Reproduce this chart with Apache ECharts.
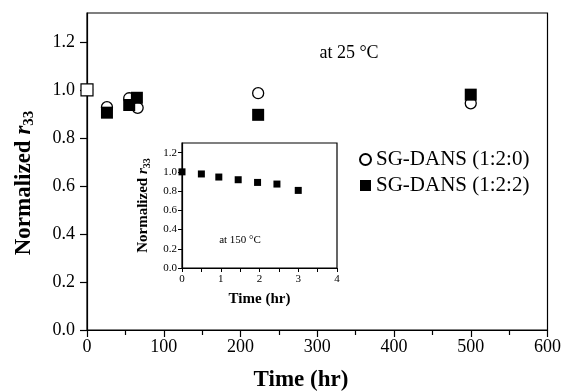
<!DOCTYPE html>
<html>
<head>
<meta charset="utf-8">
<script src="https://cdn.jsdelivr.net/npm/echarts@6/dist/echarts.min.js"></script>
<style>html,body{margin:0;padding:0;background:#fff;}#c{width:564px;height:392px;}</style>
</head>
<body>
<div id="c"></div>
<script>
// Main chart data (at 25 °C)
const mainTicksX = [0, 100, 200, 300, 400, 500, 600];
const seriesA_name = 'SG-DANS (1:2:0)';
const seriesA_time = [0, 26, 55, 66, 223, 500];
const seriesA_r33  = [1.0, 0.928, 0.965, 0.925, 0.986, 0.944];
const seriesB_name = 'SG-DANS (1:2:2)';
const seriesB_time = [0, 26, 55, 65, 223, 500];
const seriesB_r33  = [1.0, 0.905, 0.937, 0.967, 0.896, 0.98];
// Inset data (at 150 °C)
const inset_time = [0, 0.5, 0.95, 1.45, 1.95, 2.45, 3.0];
const inset_r33  = [1.0, 0.978, 0.946, 0.918, 0.89, 0.873, 0.807];

const FONT = '"Liberation Serif", "Times New Roman", serif';
const chart = echarts.init(document.getElementById('c'), null, {renderer: 'canvas'});

const ptsA = seriesA_time.map((t, i) => [t, seriesA_r33[i]]);
const ptsB = seriesB_time.map((t, i) => {
  const p = {value: [t, seriesB_r33[i]]};
  if (t === 0) p.itemStyle = {color: '#fff', borderColor: '#000', borderWidth: 1.2};
  return p;
});
const ptsInset = inset_time.map((t, i) => [t, inset_r33[i]]);

const axisLineStyle = {show: true, lineStyle: {color: '#000', width: 1.2}};

chart.setOption({
  animation: false,
  backgroundColor: '#fff',
  grid: [
    {left: 87, top: 13, right: 15, bottom: 62, show: true, borderColor: '#000', borderWidth: 1.2, backgroundColor: 'transparent'},
    {left: 182, top: 143, width: 155, height: 125, show: true, borderColor: '#000', borderWidth: 1.2, backgroundColor: '#fff', z: 5}
  ],
  legend: {
    orient: 'vertical', left: 354, top: 144, itemWidth: 11, itemHeight: 11, itemGap: 5,
    data: [seriesA_name, seriesB_name],
    textStyle: {fontFamily: FONT, fontSize: 21, color: '#000', padding: [0, 0, 0, 0]}
  },
  xAxis: [
    {gridIndex: 0, type: 'value', min: 0, max: 600, interval: 100,
     axisLine: axisLineStyle,
     axisTick: {show: true, inside: false, length: 7, lineStyle: {color: '#000', width: 1.2}},
     minorTick: {show: true, splitNumber: 2, length: 5, lineStyle: {color: '#000', width: 1.2}},
     splitLine: {show: false},
     axisLabel: {fontFamily: FONT, fontSize: 18, color: '#000', margin: 8}},
    {gridIndex: 1, type: 'value', min: 0, max: 4, interval: 1, z: 6,
     axisLine: axisLineStyle,
     axisTick: {show: true, length: 4, lineStyle: {color: '#000'}},
     minorTick: {show: true, splitNumber: 2, length: 4, lineStyle: {color: '#000'}},
     splitLine: {show: false},
     axisLabel: {fontFamily: FONT, fontSize: 11, color: '#000', margin: 6},
     name: 'Time (hr)', nameLocation: 'middle', nameGap: 24,
     nameTextStyle: {fontFamily: FONT, fontSize: 15, fontWeight: 'bold', color: '#000'}}
  ],
  yAxis: [
    {gridIndex: 0, type: 'value', min: 0, max: 1.32, interval: 0.2,
     axisLine: axisLineStyle,
     axisTick: {show: true, length: 7, lineStyle: {color: '#000', width: 1.2}},
     splitLine: {show: false},
     axisLabel: {fontFamily: FONT, fontSize: 18, color: '#000', margin: 12, showMaxLabel: false,
                 formatter: v => v.toFixed(1)}},
    {gridIndex: 1, type: 'value', min: 0, max: 1.3, interval: 0.2, z: 6,
     axisLine: axisLineStyle,
     axisTick: {show: true, length: 4, lineStyle: {color: '#000'}},
     splitLine: {show: false},
     axisLabel: {fontFamily: FONT, fontSize: 11, color: '#000', margin: 5, showMaxLabel: false,
                 formatter: v => v.toFixed(1)},
     name: '{b|Normalized }{i|r}{s|33}', nameLocation: 'middle', nameGap: 30, nameRotate: 90,
     nameTextStyle: {fontFamily: FONT, color: '#000',
       rich: {b: {fontFamily: FONT, fontSize: 15, fontWeight: 'bold', lineHeight: 18},
              i: {fontFamily: FONT, fontSize: 15, fontWeight: 'bold', fontStyle: 'italic', lineHeight: 18},
              s: {fontFamily: FONT, fontSize: 10, fontWeight: 'bold', lineHeight: 10, verticalAlign: 'bottom'}}}}
  ],
  graphic: [
    {type: 'text', x: 24, y: 183, rotation: Math.PI / 2, z: 10,
     style: {text: '{b|Normalized }{i|r}{s|33}', align: 'center', verticalAlign: 'middle', fill: '#000',
       rich: {b: {fontFamily: FONT, fontSize: 23, fontWeight: 'bold', lineHeight: 26, fill: '#000'},
              i: {fontFamily: FONT, fontSize: 23, fontWeight: 'bold', fontStyle: 'italic', lineHeight: 26, fill: '#000'},
              s: {fontFamily: FONT, fontSize: 15, fontWeight: 'bold', lineHeight: 15, verticalAlign: 'bottom', fill: '#000'}}}},
    {type: 'text', x: 301, y: 380, z: 10,
     style: {text: 'Time (hr)', font: 'bold 23px ' + FONT, align: 'center', verticalAlign: 'middle', fill: '#000'}},
    {type: 'text', x: 349, y: 53, z: 10,
     style: {text: 'at 25 °C', font: '18px ' + FONT, align: 'center', verticalAlign: 'middle', fill: '#000'}},
    {type: 'text', x: 240, y: 240, z: 20,
     style: {text: 'at 150 °C', font: '11px ' + FONT, align: 'center', verticalAlign: 'middle', fill: '#000'}}
  ],
  series: [
    {name: seriesA_name, type: 'scatter', xAxisIndex: 0, yAxisIndex: 0, data: ptsA,
     symbol: 'circle', symbolSize: 11, z: 2,
     itemStyle: {color: '#fff', borderColor: '#000', borderWidth: 1.3, opacity: 1}},
    {name: seriesB_name, type: 'scatter', xAxisIndex: 0, yAxisIndex: 0, data: ptsB,
     symbol: 'rect', symbolSize: 12, z: 3,
     itemStyle: {color: '#000', borderColor: '#000', borderWidth: 0, opacity: 1}},
    {name: 'inset', type: 'scatter', xAxisIndex: 1, yAxisIndex: 1, data: ptsInset,
     symbol: 'rect', symbolSize: 7, z: 10,
     itemStyle: {color: '#000', opacity: 1}}
  ]
});
</script>
</body>
</html>
